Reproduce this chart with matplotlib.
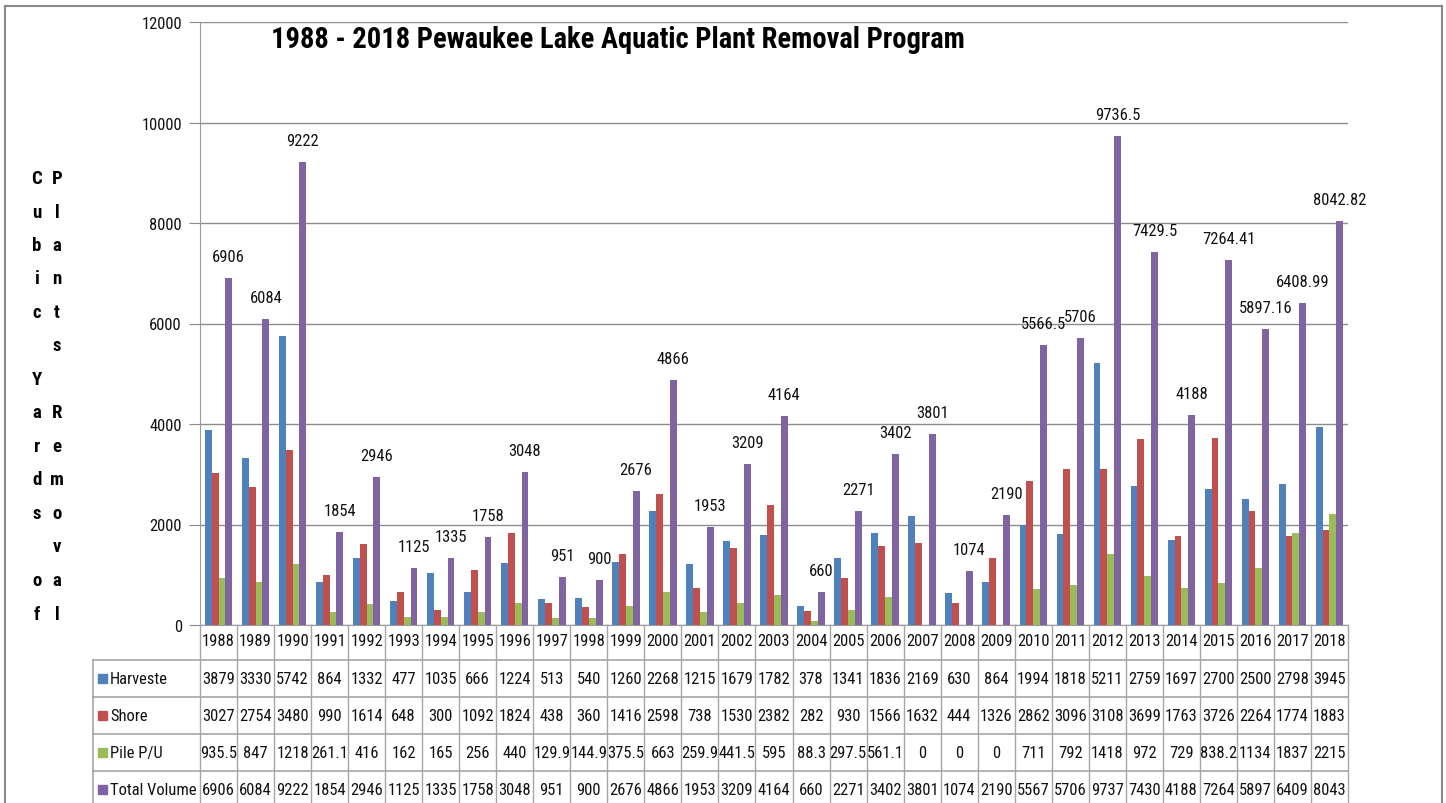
import matplotlib
matplotlib.use("Agg")
import matplotlib.pyplot as plt
import matplotlib.transforms as mtransforms
from matplotlib import font_manager
from matplotlib.lines import Line2D
from matplotlib.patches import Rectangle
import numpy as np

# ============== data ==============
years = [str(y) for y in range(1988, 2019)]
harvester = [3879, 3330, 5742, 864, 1332, 477, 1035, 666, 1224, 513, 540, 1260, 2268,
             1215, 1679, 1782, 378, 1341, 1836, 2169, 630, 864, 1994, 1818, 5211, 2759,
             1697, 2700, 2500, 2798, 3945]
shore = [3027, 2754, 3480, 990, 1614, 648, 300, 1092, 1824, 438, 360, 1416, 2598,
         738, 1530, 2382, 282, 930, 1566, 1632, 444, 1326, 2862, 3096, 3108, 3699,
         1763, 3726, 2264, 1774, 1883]
pile = [935.5, 847, 1218, 261.1, 416, 162, 165, 256, 440, 129.9, 144.9, 375.5, 663,
        259.9, 441.5, 595, 88.3, 297.5, 561.1, 0, 0, 0, 711, 792, 1418, 972,
        729, 838.2, 1134, 1837, 2215]
total = [6906, 6084, 9222, 1854, 2946, 1125, 1335, 1758, 3048, 951, 900, 2676, 4866,
         1953, 3209, 4164, 660, 2271, 3402, 3801, 1074, 2190, 5566.5, 5706, 9736.5,
         7429.5, 4188, 7264.41, 5897.16, 6408.99, 8042.82]
series_names = ['Harveste', 'Shore', 'Pile P/U', 'Total Volume']
colors = ['#4F81BD', '#C0504D', '#9BBB59', '#8064A2']

# pick the narrowest installed font we can find
installed = {f.name for f in font_manager.fontManager.ttflist}
family = 'DejaVu Sans'
for cand in ['Liberation Sans Narrow', 'Roboto Condensed', 'Open Sans Condensed',
             'Arial Narrow', 'Liberation Sans']:
    if cand in installed:
        family = cand
        break
plt.rcParams['font.family'] = [family, 'DejaVu Sans']

W, H = 1446, 804
fig = plt.figure(figsize=(W / 100, H / 100), dpi=100)
renderer = fig.canvas.get_renderer()


def fit_size(s, target_px, **kw):
    t = fig.text(0, 0, s, fontsize=10, **kw)
    w = t.get_window_extent(renderer).width
    t.remove()
    return 10 * target_px / w


fs = fit_size('0000', 32)
fs_title = fit_size('1988 - 2018 Pewaukee Lake Aquatic Plant Removal Program', 693,
                    fontweight='bold')


def px(x, y):
    # pixel (from top-left) -> figure fraction
    return x / W, 1 - y / H


left, right, top, bottom = 200, 1348, 23, 626
ax = fig.add_axes([left / W, 1 - bottom / H, (right - left) / W, (bottom - top) / H])

x = np.arange(len(years))
bw = 0.185
all_series = [harvester, shore, pile, total]
for k, (vals, c) in enumerate(zip(all_series, colors)):
    ax.bar(x + (k - 1.5) * bw, vals, width=bw, color=c, zorder=3)

for i, v in enumerate(total):
    ax.annotate('%g' % v, (x[i] + 1.5 * bw, v), xytext=(0, 14), textcoords='offset pixels',
                ha='center', va='bottom', fontsize=fs, color='#111111')

ax.set_xlim(-0.5, len(years) - 0.5)
ax.set_ylim(0, 12000)
ax.set_yticks(range(0, 12001, 2000))
ax.set_xticks([])
ax.tick_params(axis='y', direction='out', length=8, color='#888888', labelsize=fs,
               pad=5, labelcolor='#111111')
ax.yaxis.grid(True, color='#8C8C8C', linewidth=1, zorder=0)
ax.set_axisbelow(True)
for s in ['top', 'right']:
    ax.spines[s].set_visible(False)
ax.spines['left'].set_color('#9A9A9A')
ax.spines['bottom'].set_color('#9A9A9A')

# title
fig.text(*px(618, 40), '1988 - 2018 Pewaukee Lake Aquatic Plant Removal Program',
         ha='center', va='center', fontsize=fs_title, fontweight='bold', color='black')

# stacked vertical axis title
col1 = list('Cubic') + [''] + list('Yards') + [''] + list('of')
col2 = list('Plants') + [''] + list('Removal')
for xc, col in [(37, col1), (57, col2)]:
    for j, ch in enumerate(col):
        fig.text(*px(xc, 179 + j * 33.5), ch, ha='center', va='center', fontsize=13.5,
                 fontweight='bold', color='black')

# ============== data table ==============
trans = mtransforms.blended_transform_factory(ax.transData, fig.transFigure)
row_y = [626, 661, 698, 735, 772, 809]
gray = '#A6A6A6'


def fy(ypx):
    return 1 - ypx / H


def fmt(v):
    return '%g' % v


def fmt_total(v):
    return str(int(np.floor(v + 0.5)))


# vertical lines between columns
for i in range(len(years) + 1):
    fig.add_artist(Line2D([i - 0.5, i - 0.5], [fy(row_y[0]), fy(row_y[-1])],
                          transform=trans, color=gray, lw=1))
# horizontal lines
for yy in row_y[1:-1]:
    fig.add_artist(Line2D([93 / W, right / W], [fy(yy), fy(yy)], color=gray, lw=1.2))
fig.add_artist(Line2D([93 / W, 93 / W], [fy(row_y[1]), fy(row_y[-1])], color=gray, lw=1.2))

for i, yr in enumerate(years):
    fig.text(x[i], fy((row_y[0] + row_y[1]) / 2 - 2), yr, transform=trans, ha='center',
             va='center', fontsize=fs, color='#111111')

rows = [[fmt(v) for v in harvester], [fmt(v) for v in shore], [fmt(v) for v in pile],
        [fmt_total(v) for v in total]]
for r, (name, c, vals) in enumerate(zip(series_names, colors, rows)):
    yc = fy((row_y[r + 1] + row_y[r + 2]) / 2)
    fig.add_artist(Rectangle((98 / W, yc - 4.5 / H), 9 / W, 9 / H, color=c))
    fig.text(110 / W, yc, name, ha='left', va='center', fontsize=fs, color='#111111')
    for i, s in enumerate(vals):
        fig.text(x[i], yc, s, transform=trans, ha='center', va='center', fontsize=fs,
                 color='#111111')

# outer frame of the chart area
fig.add_artist(Line2D([5 / W, 5 / W], [0, fy(7)], color='#8A8A8A', lw=1.5))
fig.add_artist(Line2D([5 / W, 1442 / W], [fy(7), fy(7)], color='#8A8A8A', lw=1.5))
fig.add_artist(Line2D([1442 / W, 1442 / W], [0, fy(7)], color='#8A8A8A', lw=1.5))

fig.savefig('out.png', dpi=100)
